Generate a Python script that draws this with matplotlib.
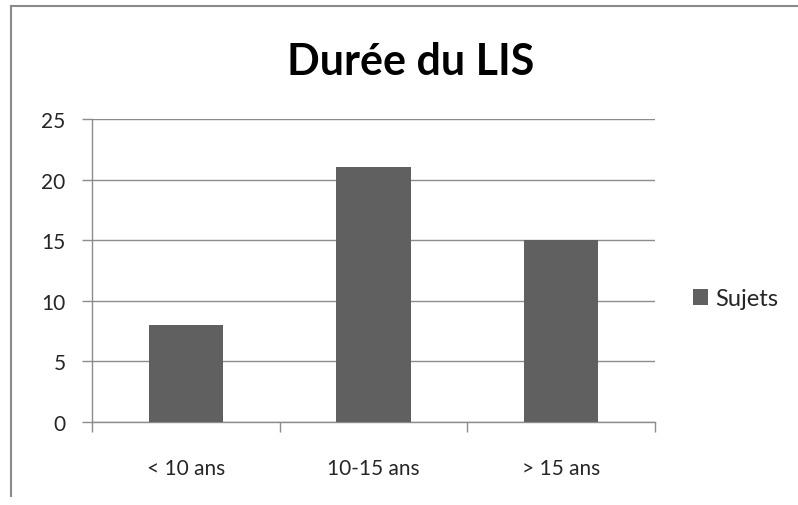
import matplotlib
matplotlib.use("Agg")
import matplotlib.pyplot as plt
from matplotlib.lines import Line2D
from matplotlib.patches import Patch

categories = ["< 10 ans", "10-15 ans", "> 15 ans"]
sujets = [8, 21, 15]
series_name = "Sujets"
title = "Durée du LIS"

plt.rcParams['font.family'] = ['Lato', 'DejaVu Sans']

W, H = 798, 506
fig = plt.figure(figsize=(W / 100, H / 100), dpi=100)
ax = fig.add_axes([92 / W, 1 - 423 / H, (655 - 92) / W, (423 - 120) / H])

bar_color = "#606060"
grid_color = "#8c8c8c"
text_color = "#262626"
x = list(range(len(categories)))
ax.bar(x, sujets, width=0.395, color=bar_color, zorder=3)

ax.set_xlim(-0.5, len(categories) - 0.5)
ax.set_ylim(0, 25)
ax.set_yticks([0, 5, 10, 15, 20, 25])
ax.yaxis.grid(True, color=grid_color, linewidth=1.0, zorder=0)
ax.set_axisbelow(True)

ax.set_xticks(x)
ax.set_xticklabels(categories, fontsize=15, color=text_color)
ax.tick_params(axis="x", which="major", length=0, pad=26)
ax.set_xticks([i - 0.5 for i in range(len(categories) + 1)], minor=True)
ax.tick_params(axis="x", which="minor", length=7, color=grid_color, width=1.0)
ax.tick_params(axis="y", length=7, color=grid_color, width=1.0, labelsize=15,
               labelcolor=text_color, pad=12)

for s in ["top", "right"]:
    ax.spines[s].set_visible(False)
for s in ["left", "bottom"]:
    ax.spines[s].set_color(grid_color)
    ax.spines[s].set_linewidth(1.0)

fig.text(411 / W, 1 - 62 / H, title, ha="center", va="center",
         fontsize=31, fontweight="bold", color="black")

handle = Patch(facecolor=bar_color, edgecolor="none")
fig.legend([handle], [series_name], loc="center left",
           bbox_to_anchor=(676 / W, 1 - 300 / H), frameon=False,
           fontsize=17, handlelength=0.65, handleheight=0.65, handletextpad=0.3,
           labelcolor=text_color, borderpad=0.2)

# outer chart border (top and left, as visible in reference)
fig.add_artist(Line2D([11 / W, 1.0], [1 - 7 / H, 1 - 7 / H], color="#8a8a8a",
                      linewidth=1.5, transform=fig.transFigure))
fig.add_artist(Line2D([11 / W, 11 / W], [1 - 7 / H, 1 - 497 / H], color="#8a8a8a",
                      linewidth=1.5, transform=fig.transFigure))

fig.savefig("out.png", dpi=100, facecolor="white")
